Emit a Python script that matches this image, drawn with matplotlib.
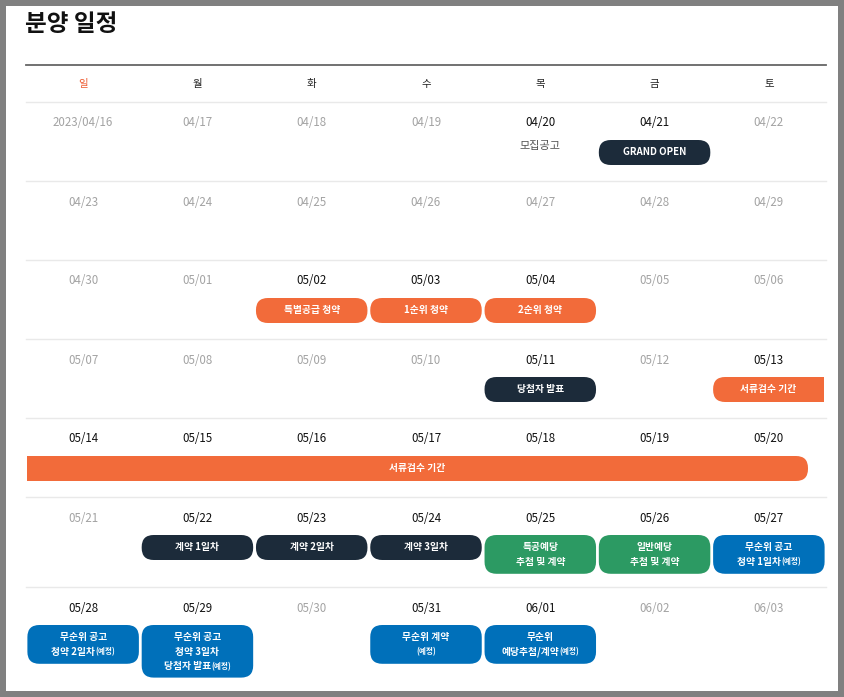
import matplotlib
matplotlib.use('Agg')
import matplotlib.pyplot as plt
from matplotlib.patches import FancyBboxPatch, Rectangle
from matplotlib.offsetbox import TextArea, HPacker, AnnotationBbox

plt.rcParams['font.family'] = ['Noto Sans CJK KR', 'DejaVu Sans']

# ---------------- data ----------------
title = '분양 일정'
weekdays = ['일', '월', '화', '수', '목', '금', '토']
date_labels = [
    ['2023/04/16', '04/17', '04/18', '04/19', '04/20', '04/21', '04/22'],
    ['04/23', '04/24', '04/25', '04/26', '04/27', '04/28', '04/29'],
    ['04/30', '05/01', '05/02', '05/03', '05/04', '05/05', '05/06'],
    ['05/07', '05/08', '05/09', '05/10', '05/11', '05/12', '05/13'],
    ['05/14', '05/15', '05/16', '05/17', '05/18', '05/19', '05/20'],
    ['05/21', '05/22', '05/23', '05/24', '05/25', '05/26', '05/27'],
    ['05/28', '05/29', '05/30', '05/31', '06/01', '06/02', '06/03'],
]
active_dates = ['04/20', '04/21', '05/02', '05/03', '05/04', '05/11', '05/13',
                '05/14', '05/15', '05/16', '05/17', '05/18', '05/19', '05/20',
                '05/22', '05/23', '05/24', '05/25', '05/26', '05/27',
                '05/28', '05/29', '05/31', '06/01']
note_dates = ['04/20']
note_labels = ['모집공고']

event_start = ['04/21', '05/02', '05/03', '05/04', '05/11', '05/13', '05/14',
               '05/22', '05/23', '05/24', '05/25', '05/26', '05/27',
               '05/28', '05/29', '05/31', '06/01']
event_end = ['04/21', '05/02', '05/03', '05/04', '05/11', '05/13', '05/20',
             '05/22', '05/23', '05/24', '05/25', '05/26', '05/27',
             '05/28', '05/29', '05/31', '06/01']
event_open = ['', '', '', '', '', 'right', 'left',
              '', '', '', '', '', '', '', '', '', '']
event_labels = [
    'GRAND OPEN', '특별공급 청약', '1순위 청약', '2순위 청약', '당첨자 발표',
    '서류검수 기간', '서류검수 기간',
    '계약 1일차', '계약 2일차', '계약 3일차',
    '특공예당\n추첨 및 계약', '일반예당\n추첨 및 계약', '무순위 공고\n청약 1일차(예정)',
    '무순위 공고\n청약 2일차(예정)', '무순위 공고\n청약 3일차\n당첨자 발표(예정)',
    '무순위 계약\n(예정)', '무순위\n예당추첨/계약(예정)',
]
event_kind = ['navy', 'orange', 'orange', 'orange', 'navy', 'orange', 'orange',
              'navy', 'navy', 'navy', 'green', 'green', 'blue',
              'blue', 'blue', 'blue', 'blue']

# ---------------- style ----------------
palette = {'navy': '#1c2b3a', 'orange': '#f26b3a', 'green': '#2c9a63', 'blue': '#0070ba'}
X0, X1 = 26, 826
COLW = (X1 - X0) / 7
ROW_LINES = [102, 181, 260, 339, 418, 497, 587]

fig = plt.figure(figsize=(8.45, 6.97), dpi=100, facecolor='#808080')
ax = fig.add_axes([0, 0, 1, 1])
ax.set_xlim(0, 845)
ax.set_ylim(697, 0)
ax.axis('off')
ax.add_patch(Rectangle((6, 6), 832, 685, facecolor='white', edgecolor='none', zorder=0))

ax.text(25, 24, title, fontsize=17, fontweight='bold', color='#111111',
        ha='left', va='center')

ax.plot([X0, X1], [65, 65], color='#666666', lw=1.3, zorder=1)
for ly in ROW_LINES:
    ax.plot([X0, X1], [ly, ly], color='#e9e9e9', lw=1.0, zorder=1)

for i, wd in enumerate(weekdays):
    ax.text(X0 + (i + 0.5) * COLW, 84, wd, fontsize=7.5,
            color='#ee5a30' if i == 0 else '#222222', ha='center', va='center')

pos = {}
for r, week in enumerate(date_labels):
    for c, d in enumerate(week):
        pos[d] = (r, c)
        act = d in active_dates
        ax.text(X0 + (c + 0.5) * COLW, ROW_LINES[r] + 21, d, fontsize=8.3,
                color='#111111' if act else '#a3a3a3', ha='center', va='center')

for d, lab in zip(note_dates, note_labels):
    r, c = pos[d]
    ax.text(X0 + (c + 0.5) * COLW, ROW_LINES[r] + 44, lab, fontsize=8,
            color='#555555', ha='center', va='center')


def line_box(txt):
    parts = []
    tp = dict(color='white', fontsize=7, fontweight='bold')
    if '(예정)' in txt:
        main = txt.replace('(예정)', '')
        if main:
            parts.append(TextArea(main, textprops=tp))
        parts.append(TextArea('(예정)', textprops=dict(color='white', fontsize=5.5,
                                                       fontweight='bold')))
    else:
        parts.append(TextArea(txt, textprops=tp))
    return HPacker(children=parts, align='baseline', pad=0, sep=0)


R = 12
for s, e, op, lab, kind in zip(event_start, event_end, event_open, event_labels, event_kind):
    r, c0 = pos[s]
    _, c1 = pos[e]
    lines = lab.split('\n')
    n = len(lines)
    top = ROW_LINES[r] + 38
    h = 25 + 13.8 * (n - 1)
    xl = X0 + c0 * COLW + 1.4
    xr = X0 + (c1 + 1) * COLW - 1.4
    if op == 'right':
        xr = X0 + (c1 + 1) * COLW - 2
    if op == 'left':
        xl = X0 + c0 * COLW + 1
        xr = X0 + (c1 + 1) * COLW - 18
    col = palette[kind]
    ax.add_patch(FancyBboxPatch((xl, top), xr - xl, h,
                                boxstyle=f'round,pad=0,rounding_size={R}',
                                facecolor=col, edgecolor='none', zorder=2))
    if op == 'right':
        ax.add_patch(Rectangle((xr - R, top), R, h, facecolor=col, edgecolor='none', zorder=2))
    if op == 'left':
        ax.add_patch(Rectangle((xl, top), R, h, facecolor=col, edgecolor='none', zorder=2))
    cx = (xl + xr) / 2
    for i, ln in enumerate(lines):
        ab = AnnotationBbox(line_box(ln), (cx, top + 12.3 + 14.3 * i), xycoords='data',
                            frameon=False, box_alignment=(0.5, 0.5), pad=0, zorder=3)
        ax.add_artist(ab)

fig.savefig('out.png', dpi=100, facecolor=fig.get_facecolor())
